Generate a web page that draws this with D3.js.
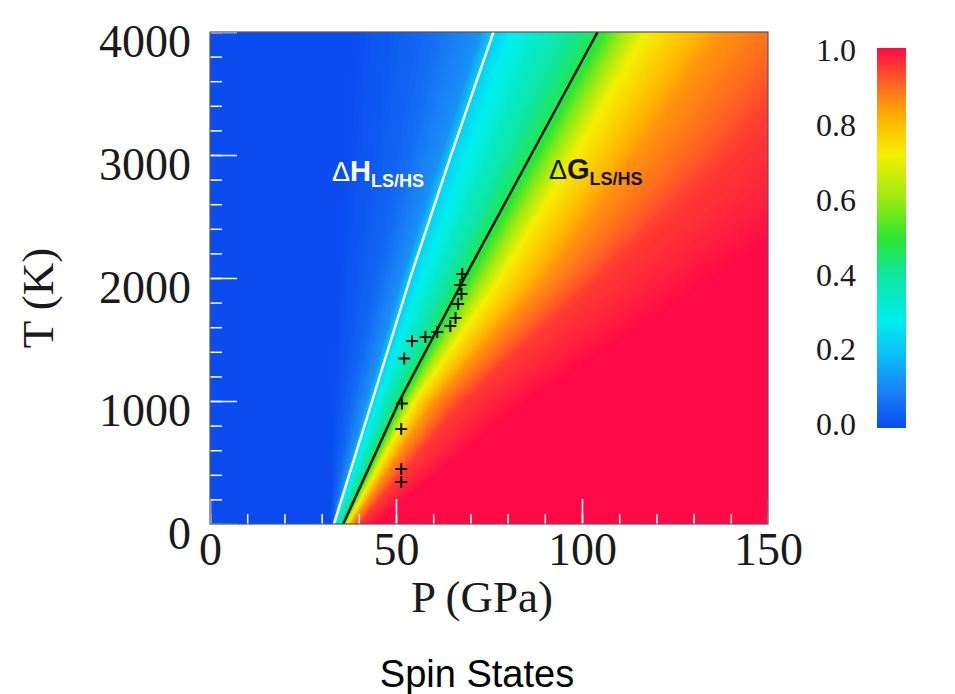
<!DOCTYPE html>
<html lang="en">
<head>
<meta charset="utf-8">
<title>Spin States</title>
<script src="https://d3js.org/d3.v7.min.js"></script>
<style>
  body { margin: 0; background: #fff; }
  svg { display: block; }
</style>
</head>
<body>
<script>
var tRows = [0, 1000, 2000, 3000, 4000];
// low-spin fraction levels, and pressure (GPa) reaching each level per row
var levels = [0, 0.05, 0.12, 0.22, 0.28, 0.47, 0.72, 0.85, 0.95, 1.0];
var levelP = [
  [32.4, 33.0, 34.0, 36.0, 38.0],
  [32.9, 38.0, 45.0, 52.0, 58.0],
  [33.1, 42.0, 51.5, 62.0, 72.5],
  [33.3, 43.6, 53.8, 64.8, 76.2],
  [33.7, 45.0, 57.0, 69.0, 81.0],
  [35.8, 50.9, 68.4, 86.3, 104.2],
  [36.8, 55.0, 78.0, 98.0, 117.0],
  [38.0, 60.0, 90.0, 114.0, 137.0],
  [40.0, 68.0, 105.0, 140.0, 170.0],
  [44.0, 85.0, 135.0, 185.0, 230.0]
];

// boundary lines
var dhT = [0, 1000, 2000, 3000, 4000];
var dhP = [33.3, 43.6, 53.8, 64.8, 76.2];
var dgT = [0, 1000, 2000, 3000, 4000];
var dgP = [35.8, 50.9, 68.4, 86.3, 104.2];

// experimental points
var obsP = [67.8, 67.3, 67.6, 66.7, 66.0, 64.6, 61.1, 57.9, 54.3, 52.2, 51.6, 51.4, 51.4, 51.4];
var obsT = [2033, 1943, 1870, 1789, 1675, 1610, 1561, 1520, 1488, 1346, 980, 772, 447, 341];

var xMajor = [0, 50, 100, 150];
var yMajor = [0, 1000, 2000, 3000, 4000];
var cbTicks = [0, 0.2, 0.4, 0.6, 0.8, 1.0];

// colour map (jet-like)
var cmStops = [0, 0.1, 0.2, 0.28, 0.4, 0.5, 0.6, 0.72, 0.82, 0.9, 1.0];
var cmColors = ["#0a4cf0", "#1a84f6", "#08c4f6", "#00eef0", "#0ee6a0", "#2ae632",
                "#9aea12", "#f4f000", "#ffb000", "#ff6a1e", "#ff0a46"];

var W = 955, H = 694;
var mLeft = 210, mTop = 32, w = 558, h = 492;

var svg = d3.select("body").append("svg")
    .attr("width", W).attr("height", H);

var x = d3.scaleLinear().domain([0, 150]).range([0, w]);
var y = d3.scaleLinear().domain([0, 4000]).range([h, 0]);
var color = d3.scaleLinear().domain(cmStops).range(cmColors).interpolate(d3.interpolateRgb).clamp(true);

// lookup table for the field
var lut = d3.range(256).map(function(i) { return d3.rgb(color(i / 255)); });

// per-level pressure at any T
var levelScales = levelP.map(function(row) {
  return d3.scaleLinear().domain(tRows).range(row);
});

var canvas = document.createElement("canvas");
canvas.width = w; canvas.height = h;
var ctx = canvas.getContext("2d");
var img = ctx.createImageData(w, h);
for (var py = 0; py < h; py++) {
  var T = y.invert(py + 0.5);
  var ps = levelScales.map(function(s) { return s(T); });
  var f = d3.scaleLinear().domain(ps).range(levels).clamp(true);
  for (var px = 0; px < w; px++) {
    var v = f(x.invert(px + 0.5));
    var c = lut[Math.round(v * 255)];
    var k = (py * w + px) * 4;
    img.data[k] = c.r; img.data[k + 1] = c.g; img.data[k + 2] = c.b; img.data[k + 3] = 255;
  }
}
ctx.putImageData(img, 0, 0);

var g = svg.append("g").attr("transform", "translate(" + mLeft + "," + mTop + ")");

g.append("clipPath").attr("id", "clip")
  .append("rect").attr("width", w).attr("height", h);

g.append("image")
    .attr("href", canvas.toDataURL())
    .attr("width", w).attr("height", h)
    .attr("preserveAspectRatio", "none");

// boundary lines
var line = d3.line().x(function(d) { return x(d[0]); }).y(function(d) { return y(d[1]); });
g.append("path")
    .datum(dhP.map(function(p, i) { return [p, dhT[i]]; }))
    .attr("d", line).attr("clip-path", "url(#clip)")
    .attr("fill", "none").attr("stroke", "#fff").attr("stroke-width", 2.5);
g.append("path")
    .datum(dgP.map(function(p, i) { return [p, dgT[i]]; }))
    .attr("d", line).attr("clip-path", "url(#clip)")
    .attr("fill", "none").attr("stroke", "#111").attr("stroke-width", 2.5);

// crosses
g.selectAll(".obs")
    .data(obsP.map(function(p, i) { return [p, obsT[i]]; }))
    .enter().append("path")
    .attr("class", "obs")
    .attr("transform", function(d) { return "translate(" + x(d[0]) + "," + y(d[1]) + ")"; })
    .attr("d", "M-6,0H6M0,-6V6")
    .attr("stroke", "#111").attr("stroke-width", 2);

// axes (ticks inward, white)
var serif = "'Liberation Serif', 'Times New Roman', serif";

var xMinor = g.append("g").attr("transform", "translate(0," + h + ")")
    .call(d3.axisBottom(x).tickValues(d3.range(0, 151, 10)).tickSize(-10).tickFormat(""));
var xAx = g.append("g").attr("transform", "translate(0," + h + ")")
    .call(d3.axisBottom(x).tickValues(xMajor).tickSize(-25).tickPadding(8).tickFormat(d3.format("d")));
var yMinor = g.append("g")
    .call(d3.axisLeft(y).tickValues(d3.range(0, 4001, 200)).tickSize(-12).tickFormat(""));
var yAx = g.append("g")
    .call(d3.axisLeft(y).tickValues(yMajor).tickSize(-27).tickPadding(19).tickFormat(d3.format("d")));

[xMinor, xAx, yMinor, yAx].forEach(function(a) {
  a.select(".domain").remove();
  a.selectAll(".tick line").attr("stroke", "#fff").attr("stroke-width", 1.5);
  a.selectAll(".tick text").attr("fill", "#1a1a1a").style("font-family", serif).style("font-size", "46px");
});
yAx.selectAll(".tick text").attr("dy", "24px");

g.append("rect").attr("width", w).attr("height", h)
    .attr("fill", "none").attr("stroke", "#555").attr("stroke-width", 1.2);

// in-plot labels
var sans = "'Liberation Sans', Arial, sans-serif";
function label(xp, yp, letter, fill) {
  var t = svg.append("text").attr("x", xp).attr("y", yp)
      .attr("fill", fill).style("font-family", sans);
  t.append("tspan").text("\u0394").style("font-size", "27px");
  t.append("tspan").text(letter).style("font-size", "29px").style("font-weight", "bold");
  t.append("tspan").text("LS/HS").attr("dy", 6).style("font-size", "18px").style("font-weight", "bold");
}
label(332, 181, "H", "#fff");
label(549, 179, "G", "#141414");

// axis titles
svg.append("text").attr("x", 482).attr("y", 612).attr("text-anchor", "middle")
    .attr("fill", "#1a1a1a").style("font-family", serif).style("font-size", "45px")
    .text("P (GPa)");
svg.append("text").attr("transform", "translate(53,298) rotate(-90)").attr("text-anchor", "middle")
    .attr("fill", "#1a1a1a").style("font-family", serif).style("font-size", "45px")
    .text("T (K)");

// colour bar
var cbY = d3.scaleLinear().domain([0, 1]).range([424, 50]);
var grad = svg.append("defs").append("linearGradient").attr("id", "cb")
    .attr("x1", 0).attr("y1", 1).attr("x2", 0).attr("y2", 0);
grad.selectAll("stop").data(cmStops).enter().append("stop")
    .attr("offset", function(d) { return d; })
    .attr("stop-color", function(d, i) { return cmColors[i]; });
svg.append("rect").attr("x", 877).attr("y", 48).attr("width", 29).attr("height", 380)
    .attr("fill", "url(#cb)");
svg.selectAll(".cbl").data(cbTicks).enter().append("text")
    .attr("class", "cbl")
    .attr("x", 856).attr("y", function(d) { return cbY(d); }).attr("dy", "0.35em")
    .attr("text-anchor", "end").attr("fill", "#1a1a1a")
    .style("font-family", serif).style("font-size", "32px")
    .text(d3.format(".1f"));

// title
svg.append("text").attr("x", 477).attr("y", 687).attr("text-anchor", "middle")
    .attr("fill", "#000").style("font-family", sans).style("font-size", "38px")
    .text("Spin States");
</script>
</body>
</html>
